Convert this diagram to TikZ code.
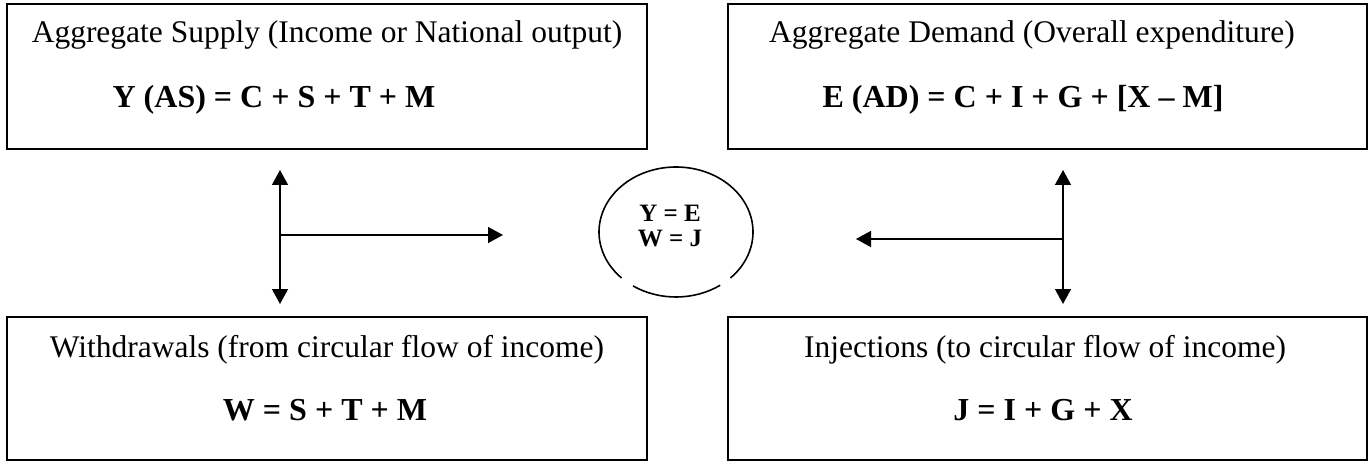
\documentclass[tikz,border=0pt]{standalone}
\usepackage{fontspec}
\setmainfont{Liberation Serif}
\usetikzlibrary{arrows.meta}
\tikzset{
  panel/.style={draw=black, line width=1.8pt},
  title/.style={anchor=base, inner sep=0pt, font=\fontsize{31.5}{34}\selectfont},
  formula/.style={anchor=base, inner sep=0pt, font=\fontsize{32}{35}\selectfont\bfseries},
  flow/.style={line width=1.4pt, -{Triangle[length=15pt,width=16pt]}},
  bothflow/.style={line width=1.4pt, {Triangle[length=15pt,width=16pt]}-{Triangle[length=15pt,width=16pt]}},
  ring/.style={line width=1.6pt}
}
\begin{document}
\begin{tikzpicture}[x=1pt,y=-1pt]
\useasboundingbox (0,0) rectangle (1372,462);
% boxes
\draw[panel] (7,4) rectangle (647,149);
\draw[panel] (728,4) rectangle (1367,149);
\draw[panel] (7,317) rectangle (647,460);
\draw[panel] (728,317) rectangle (1367,460);
% texts
\node[title] (ast) at (327,43) {Aggregate Supply (Income or National output)};
\node[formula] (asf) at (274,108) {Y (AS) = C + S + T + M};
\node[title] (adt) at (1032,43) {Aggregate Demand (Overall expenditure)};
\node[formula] (adf) at (1023,108) {E (AD) = C + I + G + [X – M]};
\node[title] (wt) at (327,357) {Withdrawals (from circular flow of income)};
\node[formula] (wf) at (325,420) {W = S + T + M};
\node[title] (jt) at (1045,357) {Injections (to circular flow of income)};
\node[formula] (jf) at (1043,420) {J = I + G + X};
% centre
\node[inner sep=0pt, align=center, font=\fontsize{25}{25}\selectfont\bfseries] (eq) at (670,226) {Y = E\\W = J};
\coordinate (ec) at (676,232);
\draw[ring] ([shift={(-45:77pt and 65pt)}]ec) arc[start angle=-45, end angle=225, x radius=77pt, y radius=65pt];
\draw[ring] ([shift={(236:77pt and 65pt)}]ec) arc[start angle=236, end angle=305, x radius=77pt, y radius=65pt];
% arrows left
\coordinate (lu) at (280,170);
\coordinate (ld) at (280,304);
\coordinate (lm) at (280,235);
\coordinate (lr) at (503,235);
\draw[bothflow] (lu) -- (ld);
\draw[flow] (lm) -- (lr);
% arrows right
\coordinate (ru) at (1063,170);
\coordinate (rd) at (1063,304);
\coordinate (rm) at (1063,239);
\coordinate (rl) at (856,239);
\draw[bothflow] (ru) -- (rd);
\draw[flow] (rm) -- (rl);
\end{tikzpicture}
\end{document}
